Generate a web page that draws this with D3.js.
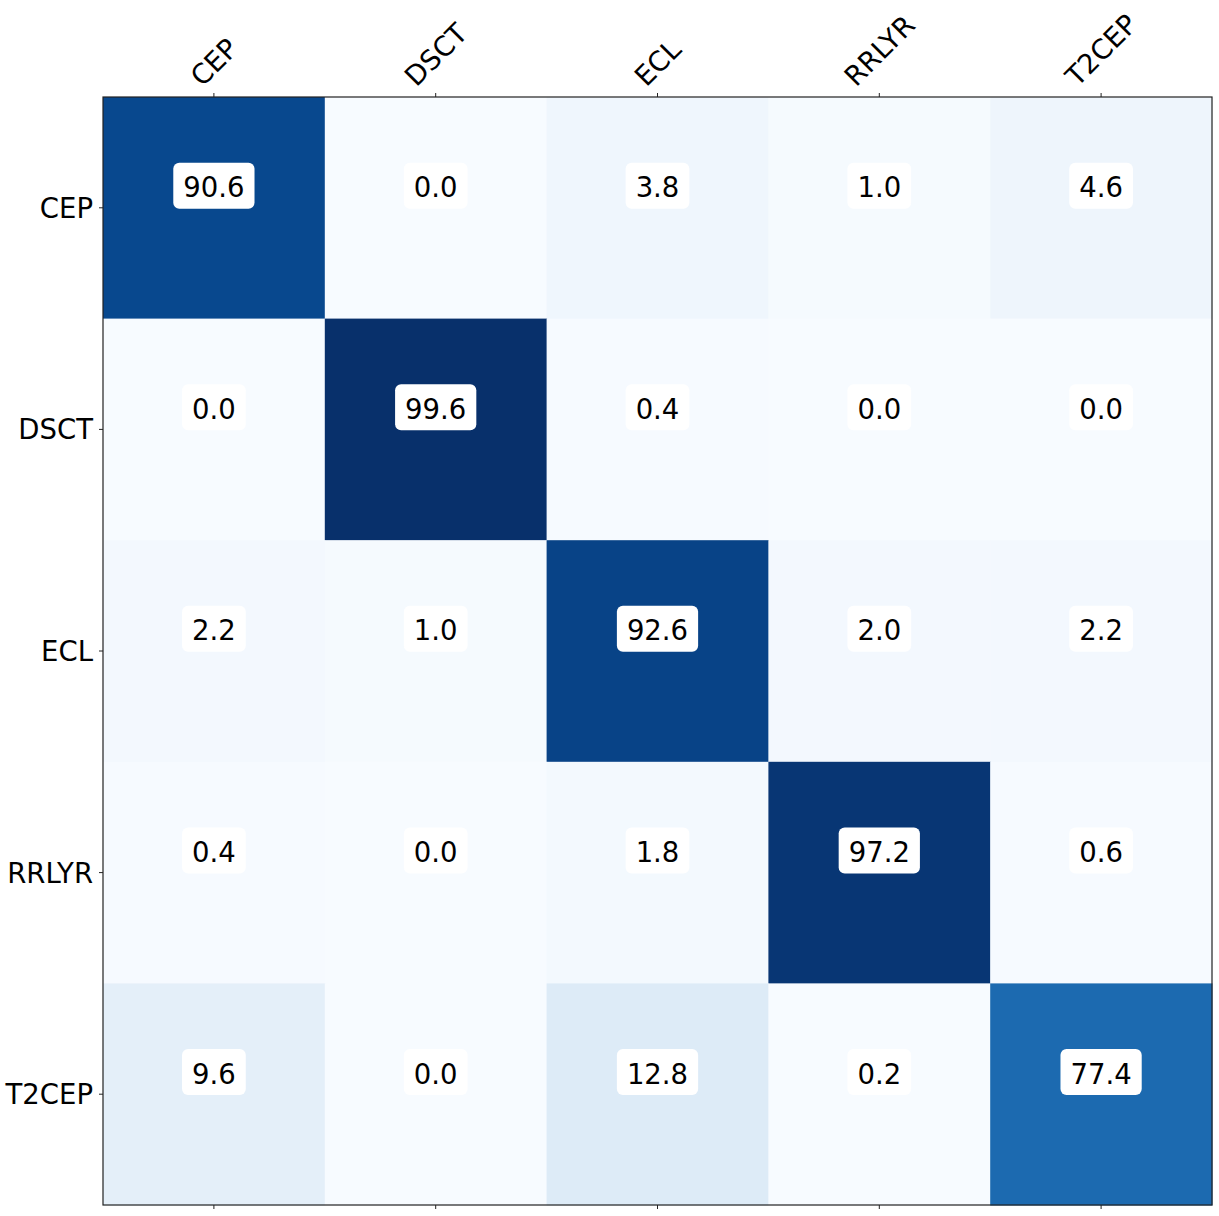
<!DOCTYPE html>
<html><head><meta charset="utf-8">
<script src="https://cdn.jsdelivr.net/npm/d3@7"></script>
<style>body{margin:0;background:#fff;} text{font-family:"DejaVu Sans",sans-serif;}</style>
</head><body>
<svg id="chart" width="1219" height="1216"></svg>
<script>
const rowLabels = ["CEP","DSCT","ECL","RRLYR","T2CEP"];
const colLabels = ["CEP","DSCT","ECL","RRLYR","T2CEP"];
const rowCEP   = [90.6, 0.0, 3.8, 1.0, 4.6];
const rowDSCT  = [0.0, 99.6, 0.4, 0.0, 0.0];
const rowECL   = [2.2, 1.0, 92.6, 2.0, 2.2];
const rowRRLYR = [0.4, 0.0, 1.8, 97.2, 0.6];
const rowT2CEP = [9.6, 0.0, 12.8, 0.2, 77.4];
const values = [rowCEP, rowDSCT, rowECL, rowRRLYR, rowT2CEP];
const bluesStops = ['#f7fbff','#deebf7','#c6dbef','#9ecae1','#6baed6','#4292c6','#2171b5','#08519c','#08306b'];

const svg = d3.select("#chart");
const L = 103, T = 97, R = 1212, B = 1205;
const x = d3.scaleBand().domain(colLabels).range([L, R]).padding(0);
const y = d3.scaleBand().domain(rowLabels).range([T, B]).padding(0);
const vmax = d3.max(values.flat());
const color = d3.scaleLinear()
  .domain(bluesStops.map((_, i) => i / (bluesStops.length - 1) * vmax))
  .range(bluesStops).interpolate(d3.interpolateRgb).clamp(true);

const cells = [];
values.forEach((row, i) => row.forEach((v, j) => cells.push({r: rowLabels[i], c: colLabels[j], v})));

svg.append("g").selectAll("rect").data(cells).join("rect")
  .attr("x", d => x(d.c)).attr("y", d => y(d.r))
  .attr("width", x.bandwidth() + 0.5).attr("height", y.bandwidth() + 0.5)
  .attr("fill", d => color(d.v));

// axes
const fs = 27.5;
const topAxis = d3.axisTop(x).tickSize(4).tickPadding(8);
const gTop = svg.append("g").attr("transform", `translate(0,${T})`).call(topAxis);
gTop.select(".domain").remove();
gTop.selectAll("text").remove();
const botAxis = d3.axisBottom(x).tickSize(4).tickFormat("");
const gBot = svg.append("g").attr("transform", `translate(0,${B})`).call(botAxis);
gBot.select(".domain").remove();
const leftAxis = d3.axisLeft(y).tickSize(4).tickPadding(6);
const gLeft = svg.append("g").attr("transform", `translate(${L},0)`).call(leftAxis);
gLeft.select(".domain").remove();
gLeft.selectAll("text").attr("font-size", fs).attr("font-family", "DejaVu Sans").attr("fill", "#000").attr("dy", "0.36em");
svg.selectAll(".tick line").attr("stroke", "#222").attr("stroke-width", 1);

// rotated top labels
const gTL = svg.append("g");
colLabels.forEach(c => {
  const t = gTL.append("text").text(c).attr("font-size", fs).attr("fill", "#000")
    .attr("text-anchor", "middle").attr("dominant-baseline", "central");
  const w = t.node().getComputedTextLength();
  const h = fs * 0.75;
  const extent = (w + h) * Math.SQRT1_2;
  const cx = x(c) + x.bandwidth() / 2;
  const cy = T - 9 - extent / 2;
  t.attr("x", cx).attr("y", cy).attr("transform", `rotate(-45,${cx},${cy})`);
});

// value labels with boxes
const gLab = svg.append("g");
cells.forEach(d => {
  const cx = x(d.c) + x.bandwidth() / 2;
  const cy = y(d.r) + y.bandwidth() * 0.4;
  const g = gLab.append("g");
  const rect = g.append("rect").attr("fill", "#fff").attr("rx", 6).attr("ry", 6);
  const t = g.append("text").text(d.v.toFixed(1)).attr("x", cx).attr("y", cy + 1.5)
    .attr("font-size", fs).attr("fill", "#000")
    .attr("text-anchor", "middle").attr("dominant-baseline", "central");
  const w = t.node().getComputedTextLength();
  const bw = w + 20, bh = 46;
  rect.attr("x", cx - bw / 2).attr("y", cy - bh / 2).attr("width", bw).attr("height", bh);
});

// frame
svg.append("rect").attr("x", L).attr("y", T).attr("width", R - L).attr("height", B - T)
  .attr("fill", "none").attr("stroke", "#222").attr("stroke-width", 1.2);
</script>
</body></html>
